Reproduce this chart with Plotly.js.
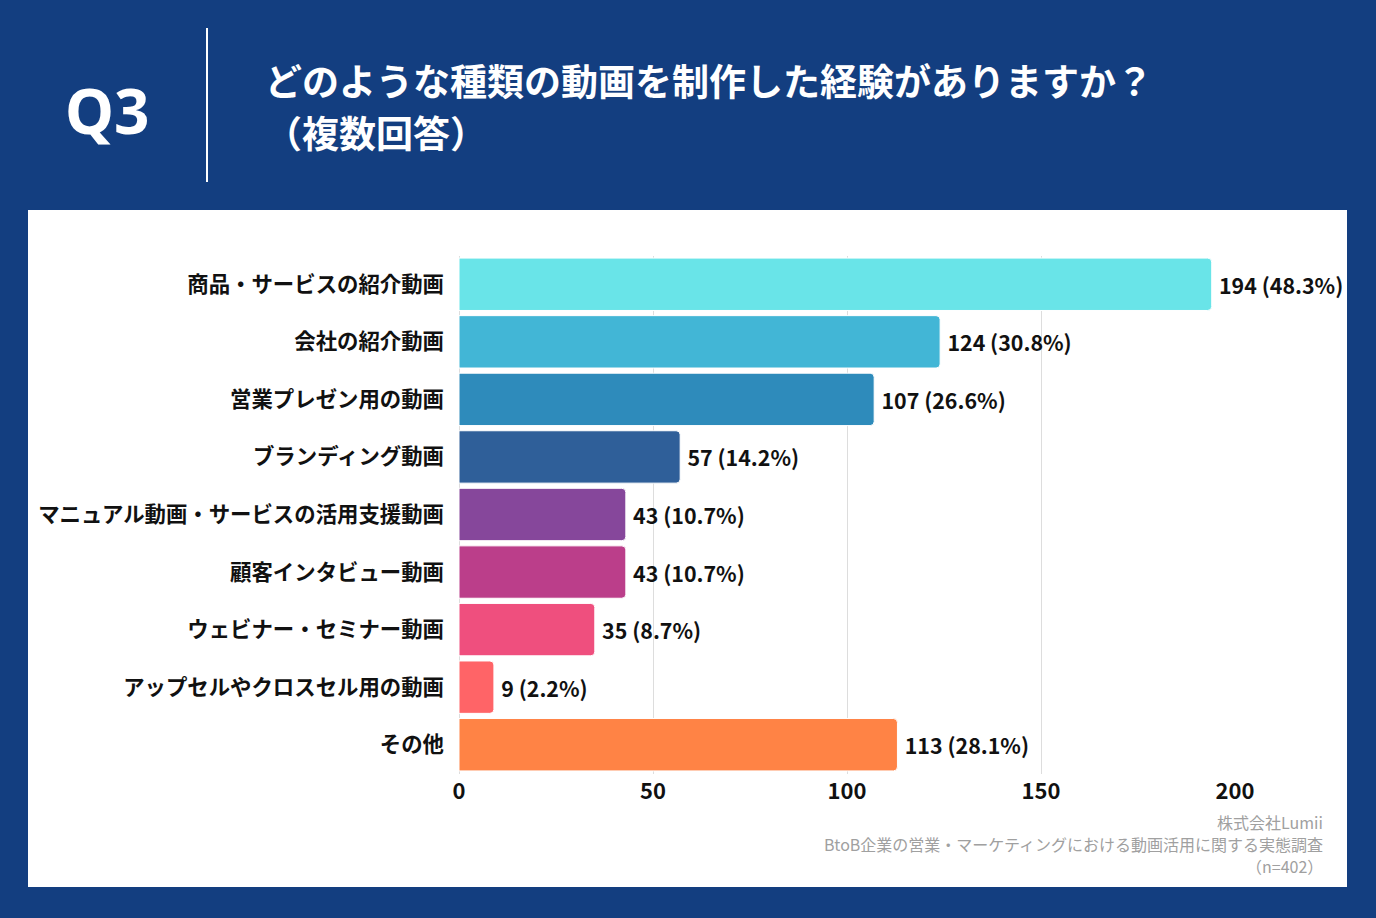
<!DOCTYPE html>
<html><head><meta charset="utf-8">
<script src="https://cdn.plot.ly/plotly-3.0.1.min.js"></script>
<style>html,body{margin:0;padding:0;background:#133e80;}#chart{width:1376px;height:918px;}</style>
</head><body><div id="chart"></div>
<script>
const categories = ["商品・サービスの紹介動画","会社の紹介動画","営業プレゼン用の動画","ブランディング動画","マニュアル動画・サービスの活用支援動画","顧客インタビュー動画","ウェビナー・セミナー動画","アップセルやクロスセル用の動画","その他"];
const counts = [194,124,107,57,43,43,35,9,113];
const percents = ["48.3","30.8","26.6","14.2","10.7","10.7","8.7","2.2","28.1"];
const colors = ["#69e4e8","#42b6d6","#2e8bbb","#2f5f99","#86479b","#bb3e8a","#ef4f7e","#ff6467","#ff8345"];
const xTicks = [0,50,100,150,200];

const W=1376,H=918;
const px = x=>x/W, py = y=>1-y/H;
const font = '"Noto Sans CJK JP", "Noto Sans", sans-serif';

const trace = {
  type:'bar', orientation:'h',
  y:categories, x:counts, customdata:percents,
  marker:{color:colors, line:{color:'#ffffff', width:1}},
  texttemplate:'\u2009%{x} (%{customdata}%)', textposition:'outside',
  textfont:{family:font, size:21.4, color:'#111111', weight:700},
  cliponaxis:false, hoverinfo:'skip'
};

const layout = {
  width:W, height:H, margin:{l:0,r:0,t:0,b:0},
  paper_bgcolor:'#133e80', plot_bgcolor:'rgba(0,0,0,0)',
  showlegend:false, bargap:0.09, barcornerradius:4,
  font:{family:font},
  xaxis:{domain:[px(459),px(1235)], range:[0,200], tickvals:xTicks, ticktext:xTicks.map(String),
    showgrid:true, gridcolor:'#dddddd', gridwidth:1, zeroline:true, zerolinecolor:'#dddddd',
    tickfont:{family:font, size:22, color:'#111111', weight:700}, ticks:'', ticklabelstandoff:2,
    anchor:'y'},
  yaxis:{domain:[py(773.5),py(255.5)], autorange:'reversed', categoryorder:'array', categoryarray:categories,
    tickfont:{family:font, size:21.4, color:'#111111', weight:700}, ticks:'', ticklabelstandoff:14,
    showgrid:false, zeroline:false},
  shapes:[
    {type:'rect', xref:'paper', yref:'paper', x0:px(28), x1:px(1347), y0:py(887), y1:py(210), fillcolor:'#ffffff', line:{width:0}, layer:'below'},
    {type:'line', xref:'paper', yref:'paper', x0:px(207), x1:px(207), y0:py(28), y1:py(182), line:{color:'#ffffff', width:2}}
  ],
  annotations:[
    {text:'Q3', xref:'paper', yref:'paper', x:px(107), y:py(110), xanchor:'center', yanchor:'middle', showarrow:false,
      font:{family:'"Noto Sans", sans-serif', size:62, color:'#ffffff', weight:700}},
    {text:'どのような種類の動画を制作した経験がありますか？', xref:'paper', yref:'paper', x:px(263), y:py(80), xanchor:'left', yanchor:'middle', showarrow:false,
      font:{family:font, size:37, color:'#ffffff', weight:700}},
    {text:'（複数回答）', xref:'paper', yref:'paper', x:px(263), y:py(132), xanchor:'left', yanchor:'middle', showarrow:false,
      font:{family:font, size:37, color:'#ffffff', weight:700}},
    {text:'株式会社Lumii', xref:'paper', yref:'paper', x:px(1325), y:py(822), xanchor:'right', yanchor:'middle', showarrow:false,
      font:{family:font, size:16, color:'#a0a0a0'}},
    {text:'BtoB企業の営業・マーケティングにおける動画活用に関する実態調査', xref:'paper', yref:'paper', x:px(1325), y:py(844), xanchor:'right', yanchor:'middle', showarrow:false,
      font:{family:font, size:16, color:'#a0a0a0'}},
    {text:'（n=402）', xref:'paper', yref:'paper', x:px(1325), y:py(866), xanchor:'right', yanchor:'middle', showarrow:false,
      font:{family:font, size:16, color:'#a0a0a0'}}
  ]
};
Plotly.newPlot('chart',[trace],layout,{displayModeBar:false, staticPlot:true});
</script></body></html>
